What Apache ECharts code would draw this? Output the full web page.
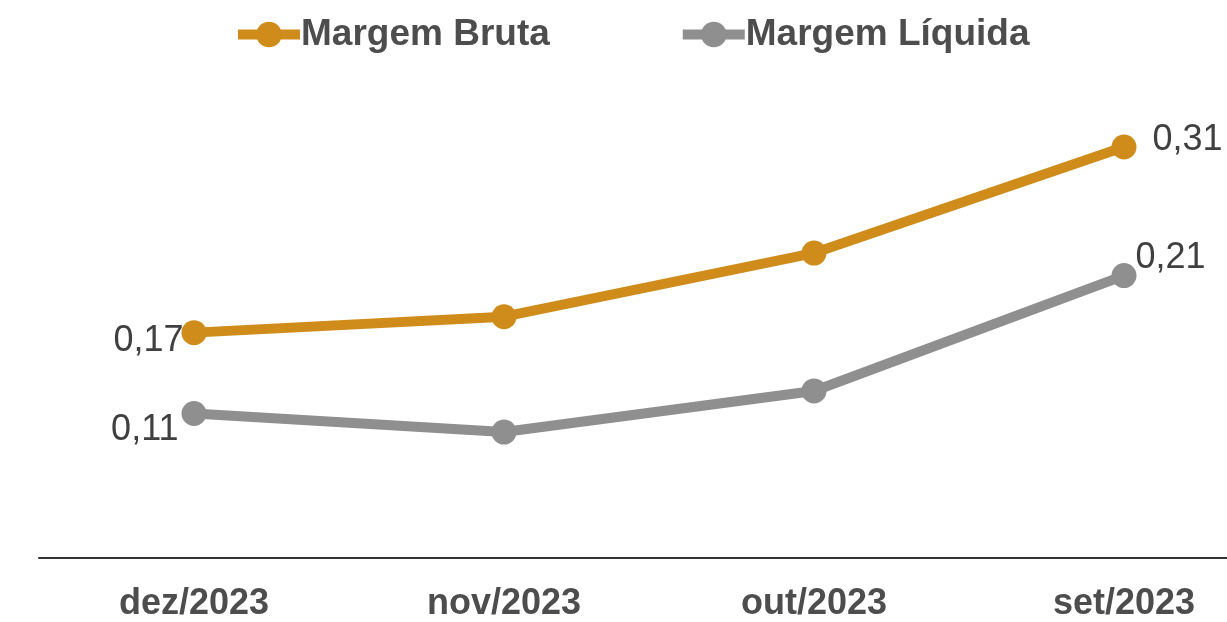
<!DOCTYPE html>
<html>
<head>
<meta charset="utf-8">
<style>
  html, body { margin: 0; padding: 0; background: #fff; overflow: hidden; }
  #chart { width: 1279px; height: 622px; }
</style>
<script src="https://cdn.jsdelivr.net/npm/echarts@6/dist/echarts.min.js"></script>
</head>
<body>
<div id="chart"></div>
<script>
var months = ['dez/2023', 'nov/2023', 'out/2023', 'set/2023'];
var margemBruta = [0.17, 0.182, 0.230, 0.31];
var margemLiquida = [0.109, 0.095, 0.126, 0.213];

var gold = '#cf8c1b';
var grey = '#8f8f8f';
var ink = '#404040';
var font = 'Liberation Sans, Arial, sans-serif';

function fmt(v) { return v.toFixed(2).replace('.', ','); }

// label only on first and last point
function withEndLabels(values, firstOffset, lastOffset) {
  return values.map(function(v, i) {
    var item = { value: v };
    if (i === 0) item.label = { show: true, position: 'left', offset: firstOffset };
    if (i === values.length - 1) item.label = { show: true, position: 'right', offset: lastOffset };
    return item;
  });
}

// the chart is a bit wider than the window, the last band runs off the right edge
var chart = echarts.init(document.getElementById('chart'), null, { renderer: 'canvas' });
chart.setOption({
  animation: false,
  legend: {
    left: 228,
    top: 11,
    itemWidth: 62,
    itemHeight: 32,
    itemGap: 128,
    lineStyle: { width: 10 },
    textStyle: { color: '#4d4d4d', fontSize: 37, fontWeight: 'bold', fontFamily: font, padding: [0, 0, 0, -4] },
    data: ['Margem Bruta', 'Margem Líquida']
  },
  grid: { left: 39, right: 0, top: 94, bottom: 63 },
  xAxis: {
    type: 'category',
    data: months,
    boundaryGap: true,
    axisLine: { lineStyle: { color: '#333', width: 2 } },
    axisTick: { show: false },
    axisLabel: { color: '#4d4d4d', fontSize: 36, fontWeight: 'bold', fontFamily: font, margin: 28 }
  },
  yAxis: {
    type: 'value',
    min: 0,
    max: 0.35,
    show: false,
    splitLine: { show: false }
  },
  series: [{
    name: 'Margem Bruta',
    type: 'line',
    data: withEndLabels(margemBruta, [7, 8], [11, -7]),
    symbol: 'circle',
    symbolSize: 25,
    lineStyle: { color: gold, width: 10 },
    itemStyle: { color: gold },
    label: { color: ink, fontSize: 36, fontFamily: font, formatter: function(p) { return fmt(p.value); } }
  }, {
    name: 'Margem Líquida',
    type: 'line',
    data: withEndLabels(margemLiquida, [2, 17], [-6, -18]),
    symbol: 'circle',
    symbolSize: 25,
    lineStyle: { color: grey, width: 10 },
    itemStyle: { color: grey },
    label: { color: ink, fontSize: 36, fontFamily: font, formatter: function(p) { return fmt(p.value); } }
  }]
});
</script>
</body>
</html>
